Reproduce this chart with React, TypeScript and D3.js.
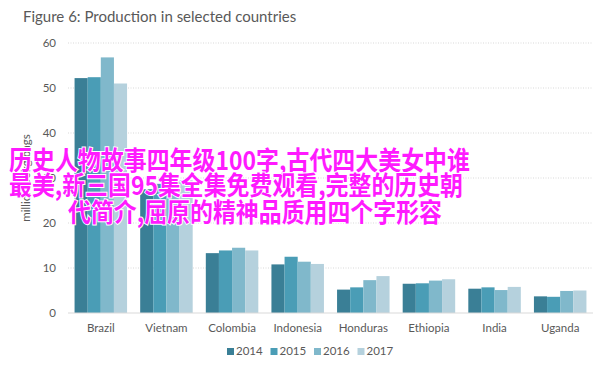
import React from "react";
import * as d3 from "d3";

const width = 612;
const height = 366;
const margin = { top: 43, right: 19, bottom: 53, left: 68 };

const countries = ["Brazil", "Vietnam", "Colombia", "Indonesia", "Honduras", "Ethiopia", "India", "Uganda"];
const years = ["2014", "2015", "2016", "2017"];
const colors = ["#3a7f96", "#4a9db6", "#80b8cb", "#b5d1dd"];

// million 60kg bags, per country, in year order
const v2014 = [52.2, 27.5, 13.3, 10.8, 5.2, 6.5, 5.4, 3.7];
const v2015 = [52.4, 28.7, 13.9, 12.5, 5.7, 6.6, 5.7, 3.6];
const v2016 = [56.8, 29.2, 14.5, 11.4, 7.3, 7.2, 5.1, 4.9];
const v2017 = [51.0, 29.5, 13.9, 10.9, 8.2, 7.5, 5.8, 5.0];
const series = [v2014, v2015, v2016, v2017];

const yTicks = [0, 10, 20, 30, 40, 50, 60];

const overlayLines = [
  "历史人物故事四年级100字,古代四大美女中谁",
  "最美,新三国95集全集免费观看,完整的历史朝",
  "代简介,屈原的精神品质用四个字形容",
];
const font = "Lato, 'Open Sans', 'DejaVu Sans', sans-serif";

export default function App() {
  const x0 = d3
    .scaleBand()
    .domain(countries)
    .range([margin.left, width - margin.right])
    .padding(0);
  const x1 = d3
    .scaleBand()
    .domain(years)
    .range([x0.bandwidth() * 0.1, x0.bandwidth() * 0.9])
    .padding(0);
  const y = d3
    .scaleLinear()
    .domain([0, 60])
    .range([height - margin.bottom, margin.top]);

  const legendX = d3.scaleBand().domain(years).range([227, 401]);

  return (
    <svg
      width={width}
      height={height}
      style={{ position: "absolute", left: 0, top: 0, background: "#fff", fontFamily: font }}
    >
      <text x={23} y={22} fontSize={15} fill="#595959">
        Figure 6: Production in selected countries
      </text>

      {/* gridlines */}
      {yTicks.filter((t) => t > 0).map((t) => (
        <line
          key={t}
          x1={margin.left}
          x2={width - margin.right}
          y1={y(t)}
          y2={y(t)}
          stroke="#d9d9d9"
          strokeDasharray="1,1.5"
        />
      ))}
      {yTicks.map((t) => (
        <text key={"l" + t} x={56} y={y(t) + 4} fontSize={11.5} fill="#595959" textAnchor="end">
          {t}
        </text>
      ))}
      <text
        transform={`translate(30,${(y(0) + y(60)) / 2}) rotate(-90)`}
        fontSize={11.5}
        fill="#595959"
        textAnchor="middle"
      >
        million 60kg bags
      </text>

      {/* bars */}
      {countries.map((c, ci) => (
        <g key={c} transform={`translate(${x0(c)},0)`}>
          {years.map((yr, si) => (
            <rect
              key={yr}
              x={x1(yr)}
              y={y(series[si][ci])}
              width={x1.bandwidth()}
              height={y(0) - y(series[si][ci])}
              fill={colors[si]}
            />
          ))}
          <text
            x={x0.bandwidth() / 2}
            y={332}
            fontSize={11.5}
            fill="#595959"
            textAnchor="middle"
          >
            {c}
          </text>
        </g>
      ))}
      <line x1={margin.left} x2={width - margin.right} y1={y(0)} y2={y(0)} stroke="#d9d9d9" />

      {/* legend */}
      {years.map((yr, si) => (
        <g key={yr} transform={`translate(${legendX(yr)},355)`}>
          <rect x={0} y={-7} width={7} height={7} fill={colors[si]} />
          <text x={9} y={0} fontSize={11.5} fill="#595959">
            {yr}
          </text>
        </g>
      ))}

      {/* overlay caption */}
      <g
        fontFamily="'Noto Sans CJK SC', sans-serif"
        fontWeight={700}
        fontSize={26}
        fill="#ff1aff"
        stroke="#ffffff"
        strokeWidth={2}
        paintOrder="stroke"
      >
        <text x={9} y={170} textLength={461} lengthAdjust="spacingAndGlyphs">
          {overlayLines[0]}
        </text>
        <text x={9} y={195} textLength={454} lengthAdjust="spacingAndGlyphs">
          {overlayLines[1]}
        </text>
        <text x={68} y={222} textLength={374} lengthAdjust="spacingAndGlyphs">
          {overlayLines[2]}
        </text>
      </g>
    </svg>
  );
}
